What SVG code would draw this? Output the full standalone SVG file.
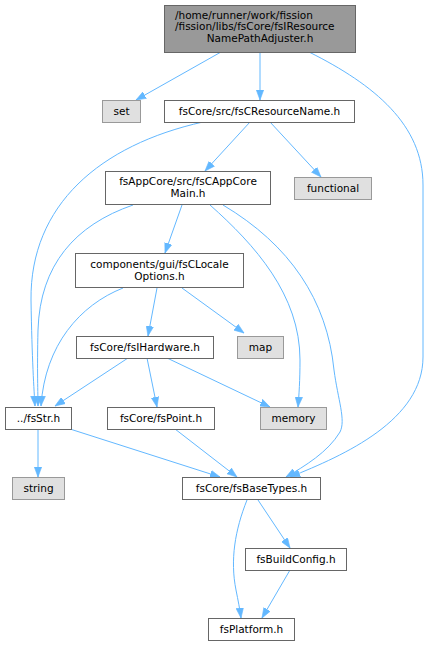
<svg xmlns="http://www.w3.org/2000/svg" width="429" height="647" viewBox="0 0 429 647">
<style>
.n rect{fill:#ffffff;stroke:#666666;stroke-width:1}
.x rect{fill:#e0e0e0;stroke:#999999;stroke-width:1}
.r rect{fill:#999999;stroke:#666666;stroke-width:1}
text{font-family:"DejaVu Sans","Liberation Sans",sans-serif;font-size:10.5px;fill:#000000;text-anchor:middle}
.e path{fill:none;stroke:#63b8ff;stroke-width:1;marker-end:url(#ah)}
</style>
<defs>
<marker id="ah" markerUnits="userSpaceOnUse" markerWidth="11" markerHeight="8" refX="10" refY="4" orient="auto">
<path d="M0,0.3 L10,4 L0,7.7 z" fill="#63b8ff" stroke="#63b8ff" stroke-width="0.6"/>
</marker>
</defs>
<rect width="429" height="647" fill="#ffffff"/>
<g class="e" id="edges">
<path d="M221,52 L136,100"/>
<path d="M260,52 L260,100"/>
<path d="M309,52 C375,85 423,125 423,185 L423,357 C423,420 345,455 290,477"/>
<path d="M203,122 C100,145 30,205 31,300 C32,360 34,390 35,406"/>
<path d="M250,122 L205,171"/>
<path d="M270,122 L321,177"/>
<path d="M133,205 C75,225 40,265 38,330 C37,370 38,395 38,406"/>
<path d="M182,205 L165,253"/>
<path d="M210,205 C255,245 300,295 300,360 C300,380 299,395 298,407"/>
<path d="M223,205 C290,245 327,300 334,370 C338,400 346,420 340,432 C328,452 305,466 286,477"/>
<path d="M123,288 C80,305 45,345 41,406"/>
<path d="M157,288 L148,336"/>
<path d="M182,288 L244,333"/>
<path d="M128,358 L55,406"/>
<path d="M147,358 L157,407"/>
<path d="M167,358 L270,407"/>
<path d="M38,429 L38,477"/>
<path d="M70,429 L220,477"/>
<path d="M175,429 L237,477"/>
<path d="M258,500 L290,548"/>
<path d="M247,500 C235,530 230,560 236,590 C238,600 240,610 241,618"/>
<path d="M290,570 L262,618"/>
</g>
<g id="root" class="r"><rect x="164.5" y="5.5" width="191" height="47"/><text x="175" y="18.5" style="text-anchor:start">/home/runner/work/fission</text><text x="175" y="30" style="text-anchor:start">/fission/libs/fsCore/fsIResource</text><text x="260" y="41.5">NamePathAdjuster.h</text></g>
<g id="set" class="x"><rect x="102.5" y="100.5" width="38" height="22"/><text x="121.5" y="115">set</text></g>
<g id="fsCResourceName" class="n"><rect x="164.5" y="100.5" width="190" height="22"/><text x="259.5" y="115">fsCore/src/fsCResourceName.h</text></g>
<g id="fsCAppCoreMain" class="n"><rect x="105.5" y="171.5" width="165" height="33"/><text x="188" y="185">fsAppCore/src/fsCAppCore</text><text x="188" y="196.5">Main.h</text></g>
<g id="functional" class="x"><rect x="294.5" y="177.5" width="77" height="22"/><text x="333" y="192">functional</text></g>
<g id="fsCLocaleOptions" class="n"><rect x="75.5" y="253.5" width="168" height="34"/><text x="159.5" y="268">components/gui/fsCLocale</text><text x="159.5" y="279.5">Options.h</text></g>
<g id="fsIHardware" class="n"><rect x="76.5" y="336.5" width="137" height="22"/><text x="145" y="351">fsCore/fsIHardware.h</text></g>
<g id="map" class="x"><rect x="237.5" y="336.5" width="46" height="22"/><text x="260.5" y="351">map</text></g>
<g id="fsStr" class="n"><rect x="5.5" y="407.5" width="66" height="22"/><text x="38.5" y="422">../fsStr.h</text></g>
<g id="fsPoint" class="n"><rect x="107.5" y="407.5" width="107" height="22"/><text x="161" y="422">fsCore/fsPoint.h</text></g>
<g id="memory" class="x"><rect x="260.5" y="407.5" width="66" height="22"/><text x="293.5" y="422">memory</text></g>
<g id="string" class="x"><rect x="12.5" y="477.5" width="52" height="22"/><text x="38.5" y="492">string</text></g>
<g id="fsBaseTypes" class="n"><rect x="182.5" y="477.5" width="138" height="22"/><text x="251.5" y="492">fsCore/fsBaseTypes.h</text></g>
<g id="fsBuildConfig" class="n"><rect x="245.5" y="548.5" width="101" height="22"/><text x="296" y="563">fsBuildConfig.h</text></g>
<g id="fsPlatform" class="n"><rect x="208.5" y="618.5" width="86" height="22"/><text x="251.5" y="633">fsPlatform.h</text></g>
</svg>
